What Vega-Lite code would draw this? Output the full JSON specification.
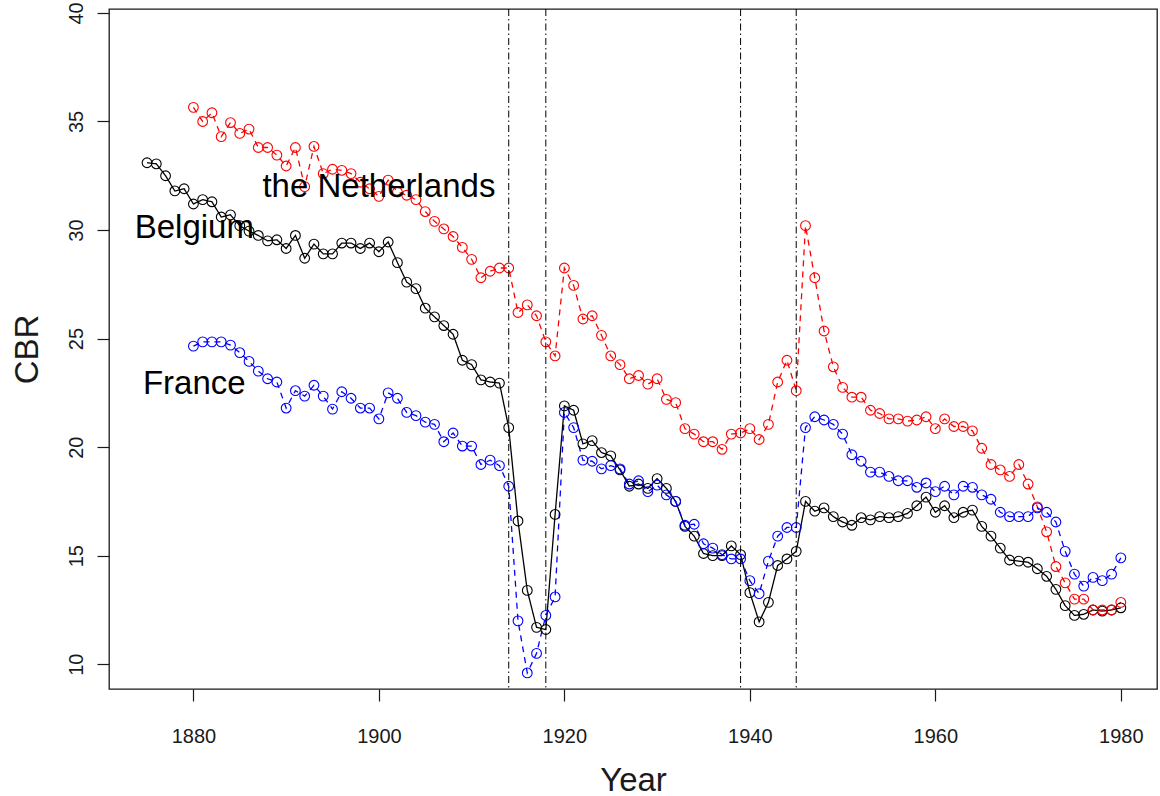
{
  "$schema": "https://vega.github.io/schema/vega-lite/v6.json",
  "width": 1048,
  "height": 680,
  "autosize": {"type": "none"},
  "padding": {"left": 109, "top": 9, "right": 3, "bottom": 107},
  "background": "white",
  "config": {
    "view": {"stroke": "#1a1a1a", "strokeWidth": 1.3},
    "font": "Liberation Sans",
    "axis": {
      "domain": false, "grid": false,
      "tickColor": "#1a1a1a", "tickSize": 12, "tickWidth": 1.2,
      "labelFont": "Liberation Sans", "labelFontSize": 20, "labelColor": "#1a1a1a",
      "titleFont": "Liberation Sans", "titleFontSize": 33, "titleFontWeight": "normal", "titleColor": "#1a1a1a"
    }
  },
  "datasets": {
    "cbr": [
      {"year": 1875, "Belgium": 33.1},
      {"year": 1876, "Belgium": 33.05},
      {"year": 1877, "Belgium": 32.5},
      {"year": 1878, "Belgium": 31.8},
      {"year": 1879, "Belgium": 31.9},
      {"year": 1880, "Belgium": 31.2, "Netherlands": 35.65, "France": 24.65},
      {"year": 1881, "Belgium": 31.4, "Netherlands": 35.0, "France": 24.85},
      {"year": 1882, "Belgium": 31.3, "Netherlands": 35.4, "France": 24.85},
      {"year": 1883, "Belgium": 30.6, "Netherlands": 34.3, "France": 24.85},
      {"year": 1884, "Belgium": 30.7, "Netherlands": 34.95, "France": 24.7},
      {"year": 1885, "Belgium": 30.2, "Netherlands": 34.45, "France": 24.35},
      {"year": 1886, "Belgium": 29.95, "Netherlands": 34.65, "France": 23.95},
      {"year": 1887, "Belgium": 29.75, "Netherlands": 33.8, "France": 23.5},
      {"year": 1888, "Belgium": 29.5, "Netherlands": 33.8, "France": 23.15},
      {"year": 1889, "Belgium": 29.55, "Netherlands": 33.45, "France": 23.0},
      {"year": 1890, "Belgium": 29.15, "Netherlands": 32.95, "France": 21.8},
      {"year": 1891, "Belgium": 29.75, "Netherlands": 33.8, "France": 22.6},
      {"year": 1892, "Belgium": 28.7, "Netherlands": 32.0, "France": 22.35},
      {"year": 1893, "Belgium": 29.35, "Netherlands": 33.85, "France": 22.85},
      {"year": 1894, "Belgium": 28.9, "Netherlands": 32.6, "France": 22.35},
      {"year": 1895, "Belgium": 28.9, "Netherlands": 32.8, "France": 21.75},
      {"year": 1896, "Belgium": 29.4, "Netherlands": 32.75, "France": 22.55},
      {"year": 1897, "Belgium": 29.4, "Netherlands": 32.6, "France": 22.25},
      {"year": 1898, "Belgium": 29.15, "Netherlands": 32.2, "France": 21.8},
      {"year": 1899, "Belgium": 29.4, "Netherlands": 31.9, "France": 21.8},
      {"year": 1900, "Belgium": 29.0, "Netherlands": 31.55, "France": 21.3},
      {"year": 1901, "Belgium": 29.45, "Netherlands": 32.3, "France": 22.5},
      {"year": 1902, "Belgium": 28.5, "Netherlands": 31.75, "France": 22.25},
      {"year": 1903, "Belgium": 27.6, "Netherlands": 31.6, "France": 21.6},
      {"year": 1904, "Belgium": 27.3, "Netherlands": 31.4, "France": 21.45},
      {"year": 1905, "Belgium": 26.4, "Netherlands": 30.85, "France": 21.15},
      {"year": 1906, "Belgium": 26.0, "Netherlands": 30.4, "France": 21.05},
      {"year": 1907, "Belgium": 25.6, "Netherlands": 30.05, "France": 20.25},
      {"year": 1908, "Belgium": 25.2, "Netherlands": 29.7, "France": 20.65},
      {"year": 1909, "Belgium": 24.0, "Netherlands": 29.2, "France": 20.05},
      {"year": 1910, "Belgium": 23.8, "Netherlands": 28.65, "France": 20.05},
      {"year": 1911, "Belgium": 23.1, "Netherlands": 27.8, "France": 19.2},
      {"year": 1912, "Belgium": 23.0, "Netherlands": 28.1, "France": 19.4},
      {"year": 1913, "Belgium": 22.95, "Netherlands": 28.25, "France": 19.15},
      {"year": 1914, "Belgium": 20.9, "Netherlands": 28.25, "France": 18.2},
      {"year": 1915, "Belgium": 16.6, "Netherlands": 26.2, "France": 12.0},
      {"year": 1916, "Belgium": 13.4, "Netherlands": 26.55, "France": 9.6},
      {"year": 1917, "Belgium": 11.7, "Netherlands": 26.05, "France": 10.5},
      {"year": 1918, "Belgium": 11.6, "Netherlands": 24.85, "France": 12.25},
      {"year": 1919, "Belgium": 16.9, "Netherlands": 24.2, "France": 13.1},
      {"year": 1920, "Belgium": 21.9, "Netherlands": 28.25, "France": 21.6},
      {"year": 1921, "Belgium": 21.7, "Netherlands": 27.45, "France": 20.9},
      {"year": 1922, "Belgium": 20.15, "Netherlands": 25.9, "France": 19.4},
      {"year": 1923, "Belgium": 20.3, "Netherlands": 26.05, "France": 19.35},
      {"year": 1924, "Belgium": 19.75, "Netherlands": 25.15, "France": 19.0},
      {"year": 1925, "Belgium": 19.6, "Netherlands": 24.2, "France": 19.15},
      {"year": 1926, "Belgium": 18.95, "Netherlands": 23.8, "France": 19.0},
      {"year": 1927, "Belgium": 18.2, "Netherlands": 23.15, "France": 18.3},
      {"year": 1928, "Belgium": 18.3, "Netherlands": 23.3, "France": 18.45},
      {"year": 1929, "Belgium": 18.1, "Netherlands": 22.9, "France": 17.95},
      {"year": 1930, "Belgium": 18.55, "Netherlands": 23.15, "France": 18.25},
      {"year": 1931, "Belgium": 18.1, "Netherlands": 22.2, "France": 17.8},
      {"year": 1932, "Belgium": 17.5, "Netherlands": 22.05, "France": 17.5},
      {"year": 1933, "Belgium": 16.35, "Netherlands": 20.85, "France": 16.4},
      {"year": 1934, "Belgium": 15.9, "Netherlands": 20.6, "France": 16.45},
      {"year": 1935, "Belgium": 15.1, "Netherlands": 20.25, "France": 15.55},
      {"year": 1936, "Belgium": 15.0, "Netherlands": 20.25, "France": 15.35},
      {"year": 1937, "Belgium": 15.0, "Netherlands": 19.9, "France": 15.05},
      {"year": 1938, "Belgium": 15.45, "Netherlands": 20.6, "France": 14.85},
      {"year": 1939, "Belgium": 15.05, "Netherlands": 20.65, "France": 14.85},
      {"year": 1940, "Belgium": 13.3, "Netherlands": 20.85, "France": 13.85},
      {"year": 1941, "Belgium": 11.95, "Netherlands": 20.35, "France": 13.25},
      {"year": 1942, "Belgium": 12.85, "Netherlands": 21.05, "France": 14.75},
      {"year": 1943, "Belgium": 14.55, "Netherlands": 23.0, "France": 15.9},
      {"year": 1944, "Belgium": 14.85, "Netherlands": 24.0, "France": 16.3},
      {"year": 1945, "Belgium": 15.2, "Netherlands": 22.6, "France": 16.3},
      {"year": 1946, "Belgium": 17.5, "Netherlands": 30.2, "France": 20.9},
      {"year": 1947, "Belgium": 17.05, "Netherlands": 27.8, "France": 21.4},
      {"year": 1948, "Belgium": 17.2, "Netherlands": 25.35, "France": 21.25},
      {"year": 1949, "Belgium": 16.8, "Netherlands": 23.7, "France": 21.05},
      {"year": 1950, "Belgium": 16.55, "Netherlands": 22.75, "France": 20.6},
      {"year": 1951, "Belgium": 16.4, "Netherlands": 22.3, "France": 19.65},
      {"year": 1952, "Belgium": 16.75, "Netherlands": 22.3, "France": 19.35},
      {"year": 1953, "Belgium": 16.65, "Netherlands": 21.7, "France": 18.85},
      {"year": 1954, "Belgium": 16.8, "Netherlands": 21.55, "France": 18.85},
      {"year": 1955, "Belgium": 16.75, "Netherlands": 21.3, "France": 18.65},
      {"year": 1956, "Belgium": 16.8, "Netherlands": 21.3, "France": 18.45},
      {"year": 1957, "Belgium": 16.95, "Netherlands": 21.2, "France": 18.45},
      {"year": 1958, "Belgium": 17.3, "Netherlands": 21.25, "France": 18.15},
      {"year": 1959, "Belgium": 17.7, "Netherlands": 21.4, "France": 18.35},
      {"year": 1960, "Belgium": 17.0, "Netherlands": 20.85, "France": 17.95},
      {"year": 1961, "Belgium": 17.3, "Netherlands": 21.3, "France": 18.2},
      {"year": 1962, "Belgium": 16.75, "Netherlands": 20.95, "France": 17.8},
      {"year": 1963, "Belgium": 17.0, "Netherlands": 20.95, "France": 18.2},
      {"year": 1964, "Belgium": 17.1, "Netherlands": 20.75, "France": 18.15},
      {"year": 1965, "Belgium": 16.35, "Netherlands": 19.95, "France": 17.8},
      {"year": 1966, "Belgium": 15.9, "Netherlands": 19.2, "France": 17.6},
      {"year": 1967, "Belgium": 15.35, "Netherlands": 18.95, "France": 17.0},
      {"year": 1968, "Belgium": 14.8, "Netherlands": 18.65, "France": 16.8},
      {"year": 1969, "Belgium": 14.75, "Netherlands": 19.2, "France": 16.8},
      {"year": 1970, "Belgium": 14.7, "Netherlands": 18.3, "France": 16.8},
      {"year": 1971, "Belgium": 14.4, "Netherlands": 17.25, "France": 17.2},
      {"year": 1972, "Belgium": 14.05, "Netherlands": 16.1, "France": 17.0},
      {"year": 1973, "Belgium": 13.45, "Netherlands": 14.5, "France": 16.55},
      {"year": 1974, "Belgium": 12.7, "Netherlands": 13.75, "France": 15.2},
      {"year": 1975, "Belgium": 12.25, "Netherlands": 13.0, "France": 14.15},
      {"year": 1976, "Belgium": 12.3, "Netherlands": 13.0, "France": 13.6},
      {"year": 1977, "Belgium": 12.5, "Netherlands": 12.5, "France": 14.0},
      {"year": 1978, "Belgium": 12.45, "Netherlands": 12.5, "France": 13.85},
      {"year": 1979, "Belgium": 12.5, "Netherlands": 12.5, "France": 14.15},
      {"year": 1980, "Belgium": 12.6, "Netherlands": 12.85, "France": 14.9}
    ]
  },
  "layer": [
    {
      "data": {"name": "cbr"},
      "transform": [
        {"fold": ["Belgium", "Netherlands", "France"], "as": ["country", "cbr"]},
        {"filter": "isValid(datum.cbr)"}
      ],
      "layer": [
        {
          "mark": {"type": "line", "strokeWidth": 1.3},
          "encoding": {
            "x": {
              "field": "year", "type": "quantitative",
              "scale": {"domain": [1870.9, 1983.9], "nice": false, "zero": false},
              "axis": {"values": [1880, 1900, 1920, 1940, 1960, 1980], "format": "d", "title": "Year", "labelPadding": 25, "labelFlush": false, "labelOverlap": false, "titleY": 101, "titleBaseline": "alphabetic"}
            },
            "y": {
              "field": "cbr", "type": "quantitative",
              "scale": {"domain": [8.86, 40.18], "nice": false, "zero": false},
              "axis": {"values": [10, 15, 20, 25, 30, 35, 40], "title": "CBR", "labelAngle": 270, "labelAlign": "center", "labelBaseline": "alphabetic", "labelPadding": 15, "labelFlush": false, "labelOverlap": false, "titleX": -72, "titleY": 340, "titleAngle": 270, "titleAlign": "center", "titleBaseline": "alphabetic"}
            },
            "color": {"field": "country", "type": "nominal", "scale": {"domain": ["Belgium", "Netherlands", "France"], "range": ["#000000", "#ff0000", "#0000ff"]}, "legend": null},
            "strokeDash": {"field": "country", "type": "nominal", "scale": {"domain": ["Belgium", "Netherlands", "France"], "range": [[1, 0], [6, 5], [6, 5]]}, "legend": null}
          }
        },
        {
          "mark": {"type": "point", "shape": "circle", "filled": false, "size": 95, "strokeWidth": 1.1, "opacity": 1},
          "encoding": {
            "x": {"field": "year", "type": "quantitative"},
            "y": {"field": "cbr", "type": "quantitative"},
            "color": {"field": "country", "type": "nominal", "scale": {"domain": ["Belgium", "Netherlands", "France"], "range": ["#000000", "#ff0000", "#0000ff"]}, "legend": null}
          }
        }
      ]
    },
    {
      "data": {"values": [{"year": 1914}, {"year": 1918}, {"year": 1939}, {"year": 1945}]},
      "mark": {"type": "rule", "color": "black", "strokeWidth": 1, "strokeDash": [7, 3, 1.5, 3]},
      "encoding": {
        "x": {"field": "year", "type": "quantitative"}
      }
    },
    {
      "data": {"values": [
        {"label": "the Netherlands", "year": 1900, "cbr": 31.5},
        {"label": "Belgium", "year": 1880.1, "cbr": 29.65},
        {"label": "France", "year": 1880.1, "cbr": 22.44}
      ]},
      "mark": {"type": "text", "font": "Liberation Sans", "fontSize": 33, "align": "center", "baseline": "alphabetic", "color": "black"},
      "encoding": {
        "x": {"field": "year", "type": "quantitative"},
        "y": {"field": "cbr", "type": "quantitative"},
        "text": {"field": "label"}
      }
    }
  ]
}
